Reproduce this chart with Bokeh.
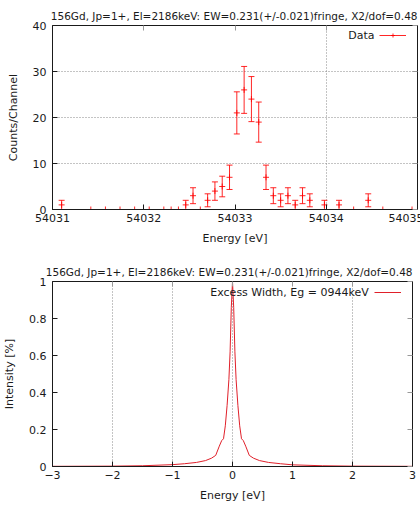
from bokeh.plotting import figure
from bokeh.layouts import column
from bokeh.models import (Range1d, LinearAxis, FixedTicker, Legend, LegendItem,
                          Label, CustomJSTickFormatter, ColumnDataSource)
from bokeh.embed import file_html
from bokeh.resources import INLINE

TITLE = "156Gd, Jp=1+, El=2186keV: EW=0.231(+/-0.021)fringe, X2/dof=0.48"

# ---- top panel data ----
energy = [54031.10, 54031.42, 54031.58, 54031.74, 54031.90, 54032.06, 54032.22,
          54032.30, 54032.38, 54032.46, 54032.54, 54032.62, 54032.70, 54032.78,
          54032.86, 54032.94, 54033.02, 54033.10, 54033.18, 54033.26, 54033.34,
          54033.42, 54033.50, 54033.58, 54033.66, 54033.74, 54033.82, 54033.98,
          54034.14, 54034.30, 54034.46, 54034.62, 54034.94]
counts = [1, 0, 0, 0, 0, 0, 0,
          0, 0, 1, 3, 0, 2, 4,
          5, 7, 21, 26, 24, 19, 7,
          3, 2, 3, 1, 3, 2, 1,
          1, 0, 2, 0, 0]
count_err = [1.0, 0, 0, 0, 0, 0, 0,
             0, 0, 1.0, 1.73, 0, 1.41, 2.0,
             2.24, 2.65, 4.58, 5.10, 4.90, 4.36, 2.65,
             1.73, 1.41, 1.73, 1.0, 1.73, 1.41, 1.0,
             1.0, 0, 1.41, 0, 0]

top_x_ticks = [54031, 54032, 54033, 54034, 54035]
top_y_ticks = [0, 10, 20, 30, 40]

# ---- bottom panel data ----
curve_x = [-3.0, -2.0, -1.5, -1.0, -0.8, -0.6, -0.45, -0.35, -0.28, -0.22, -0.18,
           -0.15, -0.12, -0.09, -0.06, -0.04, -0.02, 0.0, 0.02, 0.04, 0.06, 0.09,
           0.12, 0.15, 0.18, 0.22, 0.28, 0.35, 0.45, 0.6, 0.8, 1.0, 1.5, 2.0, 3.0]
curve_y = [0.001, 0.002, 0.004, 0.010, 0.015, 0.022, 0.032, 0.045, 0.060, 0.110, 0.140,
           0.150, 0.220, 0.330, 0.470, 0.620, 0.860, 1.0, 0.860, 0.620, 0.470, 0.330,
           0.220, 0.150, 0.140, 0.110, 0.060, 0.045, 0.032, 0.022, 0.015, 0.009, 0.004, 0.002, 0.001]

bot_x_ticks = [-3, -2, -1, 0, 1, 2, 3]
bot_y_ticks = [0, 0.2, 0.4, 0.6, 0.8, 1]

FONT = "DejaVu Sans"
RED = "#ff0000"
GRID = "#888888"
INK = "#1a1a1a"


def style(p, xt, yt):
    p.title.text_font = FONT
    p.title.text_font_size = "10.5px"
    p.title.text_font_style = "normal"
    p.title.align = "right"
    p.title.offset = 0
    p.title.text_color = INK
    p.title.standoff = 8
    p.outline_line_color = INK
    p.outline_line_width = 1
    for ax in (p.xaxis[0], p.yaxis[0]):
        ax.major_label_text_font = FONT
        ax.major_label_text_font_size = "11px"
        ax.major_label_text_color = INK
        ax.axis_label_text_font = FONT
        ax.axis_label_text_font_size = "11px"
        ax.axis_label_text_font_style = "normal"
        ax.axis_label_text_color = INK
        ax.major_tick_in = 5
        ax.major_tick_out = 0
        ax.minor_tick_line_color = None
        ax.axis_line_color = INK
        ax.major_tick_line_color = INK
    p.xaxis[0].ticker = FixedTicker(ticks=xt)
    p.yaxis[0].ticker = FixedTicker(ticks=yt)
    p.xaxis[0].major_label_standoff = 4
    p.xaxis[0].axis_label_standoff = 7
    p.yaxis[0].major_label_standoff = 6
    # mirrored ticks (no labels)
    for loc, t in (("right", yt), ("above", xt)):
        a = LinearAxis(ticker=FixedTicker(ticks=t),
                       formatter=CustomJSTickFormatter(code="return '';"),
                       axis_label=None, major_label_standoff=0, axis_label_standoff=0,
                       major_tick_in=5, major_tick_out=0,
                       minor_tick_line_color=None, axis_line_color=INK,
                       major_tick_line_color="#999999")
        p.add_layout(a, loc)


# ================= top figure =================
p1 = figure(frame_width=365, frame_height=184,
            x_range=Range1d(54031, 54035), y_range=Range1d(0, 40),
            output_backend="svg", toolbar_location=None, title=TITLE,
            min_border_left=38, min_border_right=9, min_border_top=25, min_border_bottom=39)
p1.xaxis.axis_label = "Energy [eV]"
p1.yaxis.axis_label = "Counts/Channel"
style(p1, top_x_ticks, top_y_ticks)
p1.yaxis[0].axis_label_standoff = 10
p1.xgrid.ticker = FixedTicker(ticks=[top_x_ticks[3]])
p1.xgrid.grid_line_color = GRID
p1.xgrid.grid_line_dash = "1 2"
p1.ygrid.grid_line_color = GRID
p1.ygrid.grid_line_dash = "1 2"

lo = [c - e for c, e in zip(counts, count_err)]
hi = [c + e for c, e in zip(counts, count_err)]
src = ColumnDataSource(dict(x=energy, y=counts, lo=lo, hi=hi))
ex = [x for x, e in zip(energy, count_err) if e > 0]
elo = [l for l, e in zip(lo, count_err) if e > 0]
ehi = [h for h, e in zip(hi, count_err) if e > 0]
cap_src = ColumnDataSource(dict(x=ex + ex, y=elo + ehi))

seg = p1.segment(x0="x", y0="lo", x1="x", y1="hi", source=src, line_color=RED,
                 line_width=1, line_alpha=0.85)
caps = p1.scatter(x="x", y="y", source=cap_src, marker="dash", size=6, line_color=RED,
                  line_width=1, line_alpha=0.85)
pts = p1.scatter(x="x", y="y", source=src, marker="cross", size=6, line_color=RED,
                 line_width=1, line_alpha=0.85)

leg1 = Legend(items=[LegendItem(label=" ", renderers=[seg, pts])], location=(327, 169),
              glyph_width=27, glyph_height=10, label_width=0, label_standoff=0,
              label_text_font_size="1px", padding=0, margin=0, spacing=0,
              border_line_alpha=0, background_fill_alpha=0)
p1.add_layout(leg1)
p1.add_layout(Label(x=54034.53, y=37.8, text="Data", text_align="right", text_baseline="middle",
                    text_font=FONT, text_font_size="11px", text_color=INK))

# ================= bottom figure =================
p2 = figure(frame_width=360, frame_height=185,
            x_range=Range1d(-3, 3), y_range=Range1d(0, 1),
            output_backend="svg", toolbar_location=None, title=TITLE,
            min_border_left=43, min_border_right=9, min_border_top=33, min_border_bottom=39)
p2.xaxis.axis_label = "Energy [eV]"
p2.yaxis.axis_label = "Intensity [%]"
style(p2, bot_x_ticks, bot_y_ticks)
p2.yaxis[0].axis_label_standoff = 10
p2.yaxis[0].formatter = CustomJSTickFormatter(code="return String(Math.round(tick*10)/10);")
p2.xgrid.ticker = FixedTicker(ticks=[bot_x_ticks[1], bot_x_ticks[2], bot_x_ticks[3], bot_x_ticks[5]])
p2.xgrid.grid_line_color = GRID
p2.xgrid.grid_line_dash = "1 2"
p2.ygrid.grid_line_color = None

ln = p2.line(curve_x, curve_y, line_color="#e0202a", line_width=1)
leg2 = Legend(items=[LegendItem(label=" ", renderers=[ln])], location=(322, 169),
              glyph_width=27, glyph_height=10, label_width=0, label_standoff=0,
              label_text_font_size="1px", padding=0, margin=0, spacing=0,
              border_line_alpha=0, background_fill_alpha=0)
p2.add_layout(leg2)
p2.add_layout(Label(x=2.27, y=0.94, text="Excess Width, Eg = 0944keV", text_align="right",
                    text_baseline="middle", text_font=FONT, text_font_size="11px",
                    text_color=INK))

layout = column(p1, p2, spacing=0)
open("out.html", "w").write(file_html(layout, INLINE))
